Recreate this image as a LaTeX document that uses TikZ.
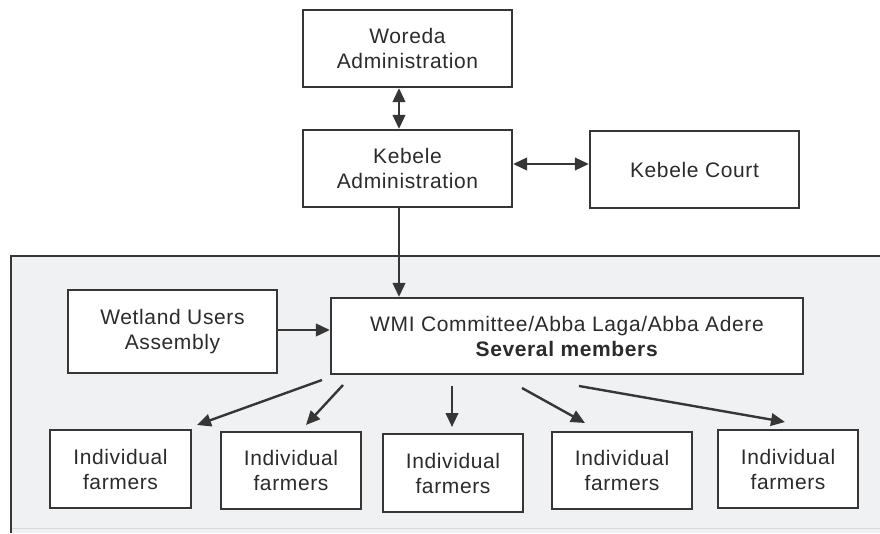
\documentclass[tikz,border=0pt]{standalone}
\usepackage{fontspec}
\setmainfont{Liberation Sans}[LetterSpace=3]
\usetikzlibrary{arrows.meta}
\definecolor{inkgray}{HTML}{2B2B2B}
\definecolor{linegray}{HTML}{363636}
\definecolor{panelgray}{HTML}{F0F1F3}
\tikzset{
  x=1pt, y=-1pt,
  box/.style={draw=linegray, line width=2.2pt, fill=white, text=inkgray,
    align=center, inner sep=0pt,
    font=\fontsize{21}{25}\selectfont},
  tip/.tip={Triangle[length=14pt,width=12.5pt]},
  link/.style={draw=linegray, line width=2.4pt, -tip},
  dlink/.style={draw=linegray, line width=2.4pt, tip-tip},
}
\begin{document}
\begin{tikzpicture}
\useasboundingbox (0,0) rectangle (880,533);
\fill[white] (0,0) rectangle (880,533);
% shaded panel holding the community level
\fill[panelgray] (11,256) rectangle (880,533);
\draw[linegray, line width=2.2pt] (11,533) -- (11,256) -- (880,256);
\draw[white!85!black, line width=0.6pt] (12,528) -- (880,528);

% upper administration
\node[box, minimum width=209pt, minimum height=77pt] (woreda) at (407.5,48.5) {Woreda\\Administration};
\node[box, minimum width=209pt, minimum height=77pt] (kebele) at (407.5,168.5) {Kebele\\Administration};
\node[box, minimum width=209pt, minimum height=77pt] (court) at (694.5,169.5) {Kebele Court};

% community level
\node[box, minimum width=209pt, minimum height=83pt] (assembly) at (172.5,331.5) {Wetland Users\\Assembly};
\node[box, minimum width=472pt, minimum height=76pt] (wmi) at (567,336) {WMI Committee/Abba Laga/Abba Adere\\\textbf{Several members}};

\node[box, minimum width=141pt, minimum height=78pt] (f1) at (120.5,469) {Individual\\farmers};
\node[box, minimum width=140pt, minimum height=77pt] (f2) at (291,470.5) {Individual\\farmers};
\node[box, minimum width=140pt, minimum height=78pt] (f3) at (453,473) {Individual\\farmers};
\node[box, minimum width=140pt, minimum height=77pt] (f4) at (622,470.5) {Individual\\farmers};
\node[box, minimum width=140pt, minimum height=78pt] (f5) at (788,469) {Individual\\farmers};

% connectors between the levels
\draw[dlink] (woreda.south -| 399,0) -- (kebele.north -| 399,0);
\draw[dlink] (kebele.east) ++(0,-4.5) coordinate (ke) -- (court.west |- ke);
\coordinate (kdown) at (399,207);
\draw[link] (kdown) -- (kdown |- wmi.north);
\draw[link] (assembly.east) ++(0,-1.5) coordinate (ae) -- (wmi.west |- ae);

% free-standing arrows fanning out to the farmers
\coordinate (s1) at (322,380); \coordinate (e1) at (197,425);
\coordinate (s2) at (343,385); \coordinate (e2) at (306,425);
\coordinate (s3) at (452,386); \coordinate (e3) at (452,427);
\coordinate (s4) at (522,388); \coordinate (e4) at (585,423);
\coordinate (s5) at (579,386); \coordinate (e5) at (785,422);
\foreach \i in {1,...,5} {\draw[link] (s\i) -- (e\i);}
\end{tikzpicture}
\end{document}
